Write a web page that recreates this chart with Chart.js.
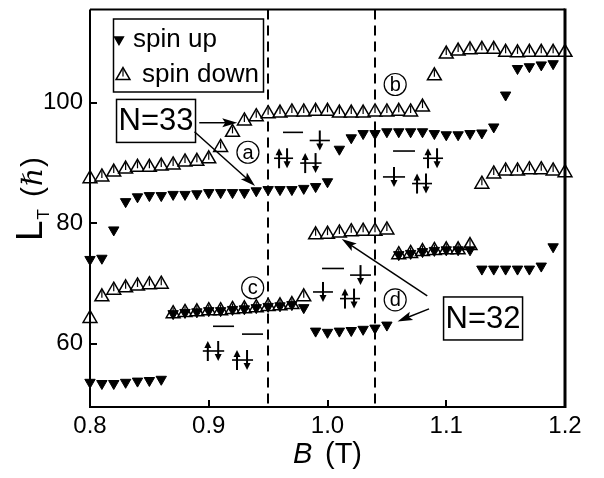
<!DOCTYPE html>
<html><head><meta charset="utf-8">
<script src="https://cdn.jsdelivr.net/npm/chart.js@4/dist/chart.umd.min.js"></script>
<style>html,body{margin:0;padding:0;background:#fff}canvas{display:block}</style>
</head><body>
<canvas id="c" width="604" height="478"></canvas>
<script>
// ---------------- data ----------------
const xTicks = [0.8, 0.9, 1.0, 1.1, 1.2];
const yTicks = [60, 80, 100];
const dashedB = [0.95, 1.04];

// spin up (filled, down-pointing triangles)
const upB1 = [0.80,0.81,0.82,0.83,0.84,0.85,0.86];
const upL1 = [53.6,53.4,53.4,53.6,53.8,53.9,54.1];
const upB2 = [0.80,0.81,0.82];
const upL2 = [74.0,74.2,78.9];
const upB3 = [0.83,0.84,0.85,0.86,0.87,0.88,0.89,0.90,0.91,0.92,0.93,0.94,0.95,0.96,0.97,0.98,0.99,1.00];
const upL3 = [83.6,84.4,84.6,84.6,84.8,84.8,84.9,85.1,85.1,85.1,85.1,85.4,85.6,85.6,85.6,85.8,86.1,86.9];
const upB4 = [1.01,1.02,1.03,1.04,1.05,1.06,1.07,1.08,1.09,1.10,1.11,1.12,1.13,1.14,1.15,1.16,1.17,1.18,1.19];
const upL4 = [92.3,94.2,94.9,94.9,95.2,95.2,95.2,95.2,94.9,94.7,94.7,94.9,95.0,96.0,101.3,105.7,106.0,106.3,106.5];
const upB5 = [0.87,0.88,0.89,0.90,0.91,0.92,0.93,0.94,0.95,0.96,0.97,0.98];
const upL5 = [65.0,65.2,65.3,65.5,65.5,65.7,65.8,66.0,66.2,66.3,66.5,66.0];
const upB6 = [0.99,1.00,1.01,1.02,1.03,1.04,1.05];
const upL6 = [62.1,61.9,62.1,62.2,62.4,62.6,63.1];
const upB7 = [1.06,1.07,1.08,1.09,1.10,1.11,1.12];
const upL7 = [74.8,75.0,75.3,75.5,75.6,75.6,75.6];
const upB8 = [1.13,1.14,1.15,1.16,1.17,1.18,1.19];
const upL8 = [72.4,72.4,72.4,72.4,72.4,72.9,76.1];

// spin down (open, up-pointing triangles)
const dnB1 = [0.80,0.81,0.82,0.83,0.84,0.85,0.86,0.87,0.88,0.89,0.90,0.91,0.92,0.93,0.94,0.95,0.96,0.97,0.98,0.99,1.00,1.01,1.02,1.03,1.04,1.05,1.06,1.07,1.08];
const dnL1 = [87.4,87.7,88.5,89.0,89.3,89.3,89.5,89.7,90.2,90.3,90.7,92.6,95.1,97.0,97.7,98.2,98.3,98.5,98.5,98.6,98.6,98.3,98.3,98.3,98.5,98.5,98.6,98.5,99.3];
const dnB2 = [1.09,1.10,1.11,1.12,1.13,1.14,1.15,1.16,1.17,1.18,1.19,1.20];
const dnL2 = [104.5,108.1,108.6,108.8,108.9,108.9,108.4,108.3,108.4,108.4,108.4,108.4];
const dnB3 = [0.80,0.81,0.82,0.83,0.84,0.85,0.86];
const dnL3 = [64.2,67.8,68.9,69.3,69.6,69.8,69.9];
const dnB4 = [0.87,0.88,0.89,0.90,0.91,0.92,0.93,0.94,0.95,0.96,0.97,0.98];
const dnL4 = [65.0,65.2,65.3,65.5,65.5,65.7,65.8,66.0,66.2,66.3,66.5,67.8];
const dnB5 = [0.99,1.00,1.01,1.02,1.03,1.04,1.05];
const dnL5 = [78.1,78.2,78.4,78.6,78.7,78.7,78.9];
const dnB6 = [1.06,1.07,1.08,1.09,1.10,1.11,1.12];
const dnL6 = [74.8,75.0,75.3,75.5,75.6,75.6,76.3];
const dnB7 = [1.13,1.14,1.15,1.16,1.17,1.18,1.19,1.20];
const dnL7 = [86.5,88.2,88.7,88.7,88.9,88.9,88.7,88.4];

// annotations (data coordinates)
const labelBoxes = [ {b:0.8556, l:97.0, t:'N=33'}, {b:1.131, l:64.2, t:'N=32'} ];
const pointerArrows = [ [0.892,96.7,0.924,96.7], [0.888,95.2,0.939,86.2], [1.084,67.95,1.012,77.4], [1.0855,65.8,1.059,63.7] ];
const circled = [ {b:0.933,l:91.8,t:'a'}, {b:1.057,l:103.05,t:'b'}, {b:0.937,l:69.3,t:'c'}, {b:1.057,l:67.3,t:'d'} ];
// orbital levels: b1,b2,L, spins ('' | 'down' | 'pair')
const levels = [
  [0.9625,0.9794,95.1,''],[0.955,0.971,90.8,'pair'],[0.985,1.002,93.75,'down'],[0.977,0.995,90.0,'pair'],
  [1.0552,1.0737,92.0,''],[1.0467,1.0653,87.7,'down'],[1.0804,1.0973,90.8,'pair'],[1.0712,1.088,86.6,'pair'],
  [0.9036,0.9213,62.9,''],[0.928,0.9457,61.6,''],[0.895,0.913,58.8,'pair'],[0.9196,0.9373,57.3,'pair'],
  [0.9954,1.0139,72.5,''],[0.9878,1.0046,68.6,'down'],[1.019,1.0366,71.4,'down'],[1.0105,1.0274,67.5,'pair']
];

// ---------------- chart ----------------
const F = '"Liberation Sans", Arial, Helvetica, sans-serif';
function pts(Bs, Ls){ return Bs.map((b,i)=>({x:b, y:Ls[i]})); }
const upData = [].concat(pts(upB1,upL1),pts(upB2,upL2),pts(upB3,upL3),pts(upB4,upL4),pts(upB5,upL5),pts(upB6,upL6),pts(upB7,upL7),pts(upB8,upL8));
const dnData = [].concat(pts(dnB1,dnL1),pts(dnB2,dnL2),pts(dnB3,dnL3),pts(dnB4,dnL4),pts(dnB5,dnL5),pts(dnB6,dnL6),pts(dnB7,dnL7));

function arrowTo(ctx, x1,y1,x2,y2, head, hw, lw){
  const a = Math.atan2(y2-y1, x2-x1), c = Math.cos(a), s = Math.sin(a);
  ctx.lineWidth = lw;
  ctx.beginPath(); ctx.moveTo(x1,y1); ctx.lineTo(x2 - c*head*0.7, y2 - s*head*0.7); ctx.stroke();
  ctx.beginPath(); ctx.moveTo(x2,y2);
  ctx.lineTo(x2 - c*head - s*hw, y2 - s*head + c*hw);
  ctx.lineTo(x2 - c*head*0.8, y2 - s*head*0.8);
  ctx.lineTo(x2 - c*head + s*hw, y2 - s*head - c*hw);
  ctx.closePath(); ctx.fill();
}

const decor = {
  id: 'decor',
  beforeDatasetsDraw(chart){
    const {ctx, chartArea:a, scales:{x}} = chart;
    ctx.save(); ctx.strokeStyle = '#000'; ctx.lineWidth = 2; ctx.setLineDash([10,6]);
    dashedB.forEach(b => { const px = Math.round(x.getPixelForValue(b)); ctx.beginPath(); ctx.moveTo(px, a.top); ctx.lineTo(px, a.bottom); ctx.stroke(); });
    ctx.restore();
  },
  afterDatasetDraw(chart, args){
    if (args.index !== 1) return;
    const ctx = chart.ctx; ctx.save(); ctx.strokeStyle = '#000'; ctx.lineWidth = 1.2;
    chart.getDatasetMeta(1).data.forEach(el => { ctx.beginPath(); ctx.moveTo(el.x, el.y - 6); ctx.lineTo(el.x, el.y + 1); ctx.stroke(); });
    ctx.restore();
  },
  afterDraw(chart){
    const {ctx, chartArea:a, scales:{x, y}} = chart;
    const px = v => x.getPixelForValue(v), py = v => y.getPixelForValue(v);
    ctx.save(); ctx.strokeStyle = '#000'; ctx.fillStyle = '#000';
    // frame
    ctx.lineWidth = 2;
    ctx.beginPath(); ctx.moveTo(a.left, a.top); ctx.lineTo(a.left, a.bottom); ctx.lineTo(a.right, a.bottom); ctx.stroke();
    ctx.beginPath(); ctx.moveTo(a.left, a.top); ctx.lineTo(a.right, a.top); ctx.stroke();
    ctx.lineWidth = 3; ctx.beginPath(); ctx.moveTo(a.right, a.top - 1); ctx.lineTo(a.right, a.bottom + 1); ctx.stroke();
    // inward ticks
    ctx.lineWidth = 2;
    y.ticks.forEach(t => { const yy = Math.round(py(t.value)); ctx.beginPath(); ctx.moveTo(a.left, yy); ctx.lineTo(a.left + 7, yy); ctx.stroke(); });
    x.ticks.forEach(t => { const xx = Math.round(px(t.value)); ctx.beginPath(); ctx.moveTo(xx, a.bottom); ctx.lineTo(xx, a.bottom - 7); ctx.stroke(); });
    // x title
    ctx.textBaseline = 'alphabetic'; ctx.textAlign = 'left';
    ctx.font = 'italic 29px ' + F; ctx.fillText('B', 293, 463);
    ctx.font = '29px ' + F; ctx.fillText('(T)', 325, 463);
    // y title (rotated)
    ctx.save(); ctx.translate(42, 241); ctx.rotate(-Math.PI/2);
    ctx.font = '37px ' + F; ctx.fillText('L', 0, 0);
    let w = ctx.measureText('L').width;
    ctx.font = '17px ' + F; ctx.fillText('T', w + 1, 7);
    ctx.font = '30px ' + F; ctx.fillText('(', 44, 0);
    let w2 = ctx.measureText('(').width;
    ctx.font = 'italic 28px "DejaVu Serif", serif'; ctx.fillText('\u210F', 44 + w2 + 1, 0);
    let w3 = ctx.measureText('\u210F').width;
    ctx.font = '30px ' + F; ctx.fillText(')', 44 + w2 + w3 + 2, 0);
    ctx.restore();
    // legend
    const lx = a.left + 23, ly = a.top + 9;
    ctx.lineWidth = 1.5; ctx.strokeRect(lx + 0.5, ly + 0.5, 150, 73);
    ctx.fillStyle = '#000';
    Chart.helpers.drawPoint(ctx, {pointStyle:'triangle', rotation:180, radius:5, borderWidth:1}, lx + 6, ly + 21);
    ctx.fillStyle = '#fff'; ctx.lineWidth = 1.5;
    Chart.helpers.drawPoint(ctx, {pointStyle:'triangle', rotation:0, radius:8, borderWidth:1.5}, lx + 10, ly + 57);
    ctx.lineWidth = 1.2; ctx.beginPath(); ctx.moveTo(lx + 10, ly + 51); ctx.lineTo(lx + 10, ly + 58); ctx.stroke();
    ctx.fillStyle = '#000'; ctx.font = '26px ' + F; ctx.textBaseline = 'middle';
    ctx.fillText('spin up', lx + 20, ly + 21);
    ctx.fillText('spin down', lx + 29, ly + 56);
    // label boxes
    ctx.textAlign = 'center';
    labelBoxes.forEach(bx => {
      const cx = px(bx.b), cy = py(bx.l);
      ctx.lineWidth = 1.5; ctx.strokeRect(cx - 39.5, cy - 21.5, 79, 43);
      ctx.font = '31px ' + F; ctx.fillText(bx.t, cx, cy + 1);
    });
    // pointer arrows
    pointerArrows.forEach(p => arrowTo(ctx, px(p[0]), py(p[1]), px(p[2]), py(p[3]), 15, 4.5, 1.5));
    // circled letters
    circled.forEach(c => {
      const cx = px(c.b), cy = py(c.l);
      ctx.lineWidth = 1.2; ctx.beginPath(); ctx.arc(cx, cy, 11, 0, Math.PI*2); ctx.stroke();
      ctx.font = '20px ' + F; ctx.fillText(c.t, cx, cy + 1);
    });
    // orbital level diagrams
    const spin = (xx, yy, dir) => {
      const h = 10, y1 = dir > 0 ? yy + h : yy - h, y2 = dir > 0 ? yy - h : yy + h;
      ctx.lineWidth = 2; ctx.beginPath(); ctx.moveTo(xx, y1); ctx.lineTo(xx, y2 + dir*5); ctx.stroke();
      ctx.beginPath(); ctx.moveTo(xx, y2); ctx.lineTo(xx - 3.5, y2 + dir*7); ctx.lineTo(xx + 3.5, y2 + dir*7); ctx.closePath(); ctx.fill();
    };
    levels.forEach(lv => {
      const x1 = px(lv[0]), x2 = px(lv[1]), yy = py(lv[2]);
      ctx.lineWidth = 1.6; ctx.beginPath(); ctx.moveTo(x1, yy); ctx.lineTo(x2, yy); ctx.stroke();
      if (lv[3] === 'down') spin((x1 + x2)/2, yy, -1);
      if (lv[3] === 'pair') { spin(x1 + 5, yy, 1); spin(x2 - 6, yy, -1); }
    });
    ctx.restore();
  }
};

const layoutPad = { top: 3, right: 39, bottom: 0, left: 0 };
const chart = new Chart(document.getElementById('c'), {
  type: 'scatter',
  data: { datasets: [
    { label: 'spin up', data: upData, pointStyle: 'triangle', rotation: 180, pointRadius: 6, pointHoverRadius: 6,
      backgroundColor: '#000', borderColor: '#000', borderWidth: 1, clip: false },
    { label: 'spin down', data: dnData, pointStyle: 'triangle', rotation: 0, pointRadius: 8, pointHoverRadius: 8,
      backgroundColor: '#fff', borderColor: '#000', borderWidth: 1.5, clip: false }
  ]},
  options: {
    responsive: false, animation: false, devicePixelRatio: 1,
    layout: { padding: layoutPad },
    plugins: { legend: { display: false }, tooltip: { enabled: false } },
    scales: {
      x: { type: 'linear', min: 0.8, max: 1.2,
        afterBuildTicks: s => { s.ticks = xTicks.map(v => ({value: v})); },
        afterFit: s => { s.height = 71; s.paddingLeft = 0; s.paddingRight = 0; },
        grid: { display: false, drawTicks: false }, border: { display: false },
        ticks: { autoSkip: false, maxRotation: 0, padding: 5, color: '#000', font: { family: F, size: 24 },
          callback: v => Number(v).toFixed(1) } },
      y: { type: 'linear', min: 49.5, max: 115.5,
        afterBuildTicks: s => { s.ticks = yTicks.map(v => ({value: v})); },
        afterFit: s => { s.width = 90; s.paddingTop = 0; s.paddingBottom = 0; },
        grid: { display: false, drawTicks: false }, border: { display: false },
        ticks: { autoSkip: false, padding: 7, color: '#000', font: { family: F, size: 24 } } }
    }
  },
  plugins: [decor]
});
// pin the plot area to the reference frame (left 90, top 3, right 565, bottom 407)
for (let i = 0; i < 3; i++) {
  const ca = chart.chartArea;
  const dt = 3 - ca.top, dl = 90 - ca.left, dr = ca.right - 565, db = ca.bottom - 407;
  if (!dt && !dl && !dr && !db) break;
  layoutPad.top += dt; layoutPad.left += dl; layoutPad.right += dr; layoutPad.bottom += db;
  chart.options.layout.padding = Object.assign({}, layoutPad);
  chart.update();
}
</script>
</body></html>
